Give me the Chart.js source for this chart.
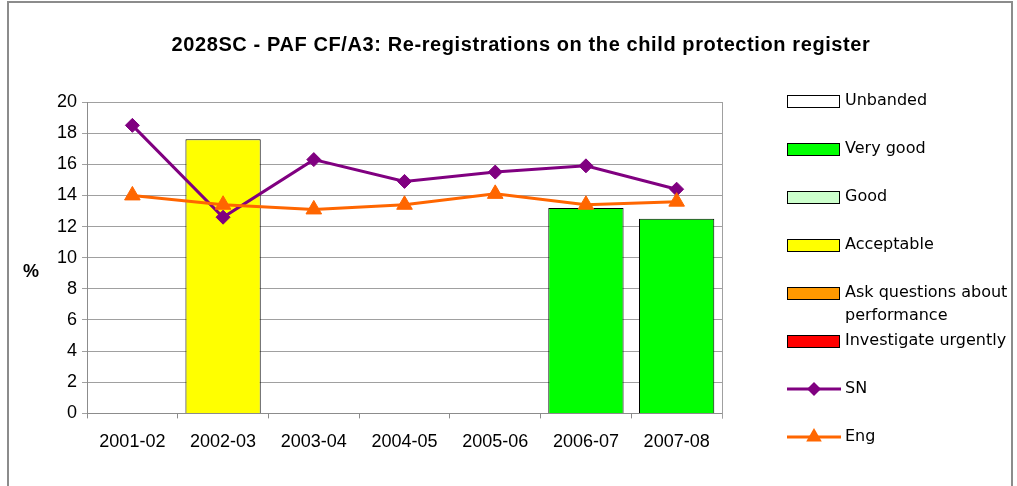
<!DOCTYPE html>
<html>
<head>
<meta charset="utf-8">
<script src="https://cdn.jsdelivr.net/npm/chart.js@4/dist/chart.umd.min.js"></script>
<style>
  html, body { margin: 0; padding: 0; background: #fff; }
  #wrap { width: 1017px; height: 486px; position: relative; }
</style>
</head>
<body>
<div id="wrap"><canvas id="chart" width="1017" height="486"></canvas></div>
<script>
// --- data ---
const years = ["2001-02", "2002-03", "2003-04", "2004-05", "2005-06", "2006-07", "2007-08"];
const unbanded = [null, null, null, null, null, null, null];
const veryGood = [null, null, null, null, null, 13.2, 12.5];
const good = [null, null, null, null, null, null, null];
const acceptable = [null, 17.6, null, null, null, null, null];
const askQuestions = [null, null, null, null, null, null, null];
const investigate = [null, null, null, null, null, null, null];
const sn = [18.5, 12.6, 16.3, 14.9, 15.5, 15.9, 14.4];
const eng = [14.0, 13.4, 13.1, 13.4, 14.1, 13.4, 13.6];
const yTicks = [0, 2, 4, 6, 8, 10, 12, 14, 16, 18, 20];

const FONT = "'Liberation Sans', Arial, sans-serif";
const LEGEND_FONT = "'DejaVu Sans', Verdana, sans-serif";

function band(label, data, color) {
  return {
    type: "bar",
    label: label,
    data: data,
    backgroundColor: color,
    borderColor: "#000",
    borderWidth: 1,
    grouped: false,
    categoryPercentage: 1,
    barPercentage: 0.83,
    order: 2
  };
}

// frame, title, "%" label, legend
const extras = {
  id: "extras",
  beforeDraw(chart) {
    const ctx = chart.ctx;
    ctx.save();
    ctx.fillStyle = "#fff";
    ctx.fillRect(0, 0, chart.width, chart.height);
    ctx.strokeStyle = "#8c8c8c";
    ctx.lineWidth = 2;
    ctx.strokeRect(8, 2, 1004, 500);
    ctx.restore();
  },
  afterDraw(chart) {
    const ctx = chart.ctx;
    const area = chart.chartArea;
    ctx.save();
    // right edge of plot
    ctx.strokeStyle = "#a0a0a0";
    ctx.lineWidth = 1;
    ctx.beginPath();
    ctx.moveTo(area.right + 0.5, area.top);
    ctx.lineTo(area.right + 0.5, area.bottom + 5);
    ctx.stroke();

    // title
    ctx.fillStyle = "#000";
    ctx.font = "bold 20px " + FONT;
    ctx.letterSpacing = "0.6px";
    ctx.textAlign = "center";
    ctx.textBaseline = "middle";
    ctx.fillText("2028SC - PAF CF/A3: Re-registrations on the child protection register", 521, 45);
    ctx.letterSpacing = "0px";

    // y title
    ctx.font = "bold 18px " + FONT;
    ctx.fillText("%", 31, 272);

    // legend
    const x0 = area.right + 65;
    const boxW = 52, boxH = 12;
    const tx = x0 + 58;
    let y = 101;
    ctx.textAlign = "left";
    ctx.font = "16px " + LEGEND_FONT;
    chart.data.datasets.forEach(ds => {
      if (ds.type === "bar") {
        ctx.fillStyle = ds.backgroundColor;
        ctx.fillRect(x0, y - boxH / 2, boxW, boxH);
        ctx.strokeStyle = "#000";
        ctx.lineWidth = 1;
        ctx.strokeRect(x0 + 0.5, y - boxH / 2 + 0.5, boxW, boxH);
      } else {
        ctx.strokeStyle = ds.borderColor;
        ctx.lineWidth = ds.borderWidth;
        ctx.beginPath();
        ctx.moveTo(x0, y);
        ctx.lineTo(x0 + boxW + 2, y);
        ctx.stroke();
        const cx = x0 + boxW / 2 + 1, r = ds.pointRadius;
        ctx.fillStyle = ds.pointBackgroundColor;
        ctx.beginPath();
        if (ds.pointStyle === "rectRot") {
          ctx.moveTo(cx, y - r); ctx.lineTo(cx + r, y); ctx.lineTo(cx, y + r); ctx.lineTo(cx - r, y);
        } else {
          ctx.moveTo(cx, y - r); ctx.lineTo(cx + r * 0.866, y + r / 2); ctx.lineTo(cx - r * 0.866, y + r / 2);
        }
        ctx.closePath();
        ctx.fill();
      }
      ctx.fillStyle = "#000";
      // simple word wrap
      const maxW = chart.width - tx - 4;
      const words = ds.label.split(" ");
      const lines = [];
      let line = "";
      words.forEach(w => {
        const test = line ? line + " " + w : w;
        if (ctx.measureText(test).width > maxW && line) { lines.push(line); line = w; }
        else line = test;
      });
      lines.push(line);
      lines.forEach((l, i) => ctx.fillText(l, tx, y + i * 23));
      y += 48;
    });
    ctx.restore();
  }
};

new Chart(document.getElementById("chart"), {
  data: {
    labels: years,
    datasets: [
      band("Unbanded", unbanded, "#ffffff"),
      band("Very good", veryGood, "#00ff00"),
      band("Good", good, "#ccffcc"),
      band("Acceptable", acceptable, "#ffff00"),
      band("Ask questions about performance", askQuestions, "#ff9900"),
      band("Investigate urgently", investigate, "#ff0000"),
      {
        type: "line",
        label: "SN",
        data: sn,
        borderColor: "#800080",
        backgroundColor: "#800080",
        pointBackgroundColor: "#800080",
        pointBorderColor: "#800080",
        borderWidth: 3,
        pointStyle: "rectRot",
        pointRadius: 7,
        pointBorderWidth: 1,
        tension: 0,
        order: 1
      },
      {
        type: "line",
        label: "Eng",
        data: eng,
        borderColor: "#ff6600",
        backgroundColor: "#ff6600",
        pointBackgroundColor: "#ff6600",
        pointBorderColor: "#ff6600",
        borderWidth: 3,
        pointStyle: "triangle",
        pointRadius: 9,
        pointBorderWidth: 1,
        tension: 0,
        order: 0
      }
    ]
  },
  options: {
    responsive: false,
    animation: false,
    layout: { padding: { left: 52, right: 295, top: 102, bottom: 20 } },
    plugins: {
      legend: { display: false },
      title: { display: false },
      tooltip: { enabled: false }
    },
    scales: {
      x: {
        offset: true,
        grid: { offset: true, drawOnChartArea: false, tickLength: 5, color: "#8c8c8c" },
        border: { color: "#8c8c8c" },
        ticks: { color: "#000", font: { family: FONT, size: 18 }, padding: 13, maxRotation: 0 }
      },
      y: {
        min: 0,
        max: 20,
        afterBuildTicks(scale) { scale.ticks = yTicks.map(v => ({ value: v })); },
        grid: { color: "#a0a0a0", tickLength: 5 },
        border: { color: "#8c8c8c" },
        ticks: { color: "#000", font: { family: FONT, size: 18 }, padding: 5 }
      }
    }
  },
  plugins: [extras]
});
</script>
</body>
</html>
